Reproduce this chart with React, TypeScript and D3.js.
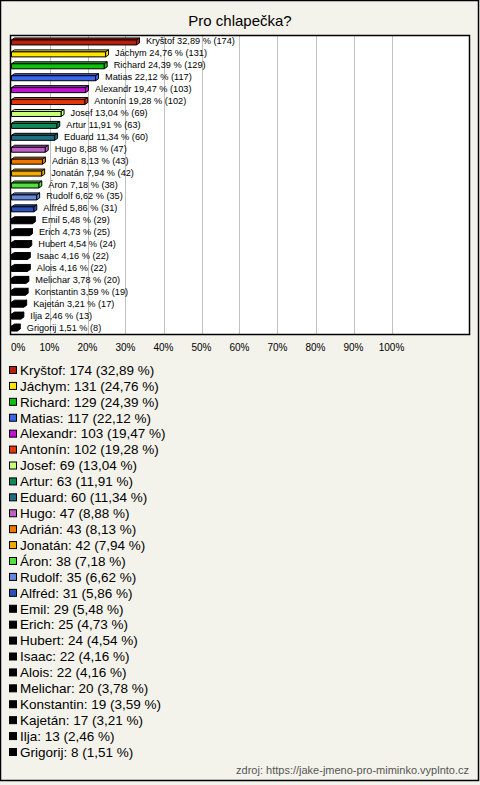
import React from "react";
import * as d3 from "d3";

const title = "Pro chlapečka?";
const names = ["Kryštof","Jáchym","Richard","Matias","Alexandr","Antonín","Josef","Artur","Eduard","Hugo","Adrián","Jonatán","Áron","Rudolf","Alfréd","Emil","Erich","Hubert","Isaac","Alois","Melichar","Konstantin","Kajetán","Ilja","Grigorij"];
const counts = [174,131,129,117,103,102,69,63,60,47,43,42,38,35,31,29,25,24,22,22,20,19,17,13,8];
const percents = [32.89,24.76,24.39,22.12,19.47,19.28,13.04,11.91,11.34,8.88,8.13,7.94,7.18,6.62,5.86,5.48,4.73,4.54,4.16,4.16,3.78,3.59,3.21,2.46,1.51];
const colors = ["#b81e0c","#ffe400","#10c010","#3a66e8","#c010d0","#e0380c","#c8ff78","#108858","#1e6e84","#c060c8","#f07800","#f0aa00","#50e040","#6688dd","#2850b8","#000","#000","#000","#000","#000","#000","#000","#000","#000","#000"];
const ticks = [0,10,20,30,40,50,60,70,80,90,100];
const source = "zdroj: https://jake-jmeno-pro-miminko.vyplnto.cz";

const fmt = (v: number) => v.toFixed(2).replace(".", ",");
const FONT = "'Liberation Sans', Arial, sans-serif";

export default function App() {
  const W = 480, H = 785;
  const plot = { x0: 10, y0: 35, x1: 470, y1: 335 };
  const x = d3.scaleLinear().domain([0, 100]).range([11.5, 391.5]);
  const y = d3.scaleBand<string>().domain(names).range([36, 334]);
  const ly = d3.scalePoint<string>().domain(names).range([370, 752]);
  const dx = 3, dy = 2;

  return (
    <svg width={W} height={H} style={{ position: "absolute", left: 0, top: 0, fontFamily: FONT }}>
      <rect x={0} y={0} width={W} height={H} fill="#f4f3eb" />
      <rect x={0.5} y={0.5} width={478} height={780} fill="none" stroke="#000" strokeWidth={1.5} />
      <text x={240} y={26} textAnchor="middle" fontSize={15} fill="#000">{title}</text>
      <rect x={plot.x0} y={plot.y0} width={plot.x1 - plot.x0} height={plot.y1 - plot.y0} fill="#fff" />
      {ticks.slice(1).map((t) => (
        <line key={t} x1={Math.round(x(t)) + 0.5} x2={Math.round(x(t)) + 0.5} y1={plot.y0} y2={plot.y1} stroke="#c0c0c0" strokeWidth={1} />
      ))}
      {names.map((n, i) => {
        const c = y(n)! + y.bandwidth() / 2;
        const x0 = x(0), x1 = x(percents[i]);
        const top = c - 2, bot = c + 3;
        const col = colors[i];
        return (
          <g key={n} stroke="#000" strokeWidth={1} strokeLinejoin="round">
            <polygon points={`${x0},${top} ${x0 + dx},${top - dy} ${x1 + dx},${top - dy} ${x1},${top}`} fill={col} />
            <polygon points={`${x1},${top} ${x1 + dx},${top - dy} ${x1 + dx},${bot - dy} ${x1},${bot}`} fill={col} />
            <rect x={x0} y={top} width={x1 - x0} height={bot - top} fill={col} />
            <text x={x1 + 9.5} y={c + 2.5} fontSize={9.2} fill="#000" stroke="none">
              {`${n} ${fmt(percents[i])} % (${counts[i]})`}
            </text>
          </g>
        );
      })}
      <rect x={plot.x0 + 0.5} y={plot.y0 + 0.5} width={plot.x1 - plot.x0 - 1} height={plot.y1 - plot.y0 - 1} fill="none" stroke="#000" strokeWidth={1.5} />
      {ticks.map((t, i) => (
        <text key={t} x={i === 0 ? x(t) - 0.5 : x(t)} y={351} fontSize={10} textAnchor={i === 0 ? "start" : "middle"} fill="#000">{`${t}%`}</text>
      ))}
      {names.map((n, i) => {
        const c = ly(n)!;
        return (
          <g key={n}>
            <rect x={9.5} y={c - 3.5} width={7} height={7} fill={colors[i]} stroke="#000" strokeWidth={1} />
            <text x={20} y={c + 4.8} fontSize={13.5} fill="#000">{`${n}: ${counts[i]} (${fmt(percents[i])} %)`}</text>
          </g>
        );
      })}
      <text x={469} y={774} textAnchor="end" fontSize={11} fill="#555">{source}</text>
    </svg>
  );
}
